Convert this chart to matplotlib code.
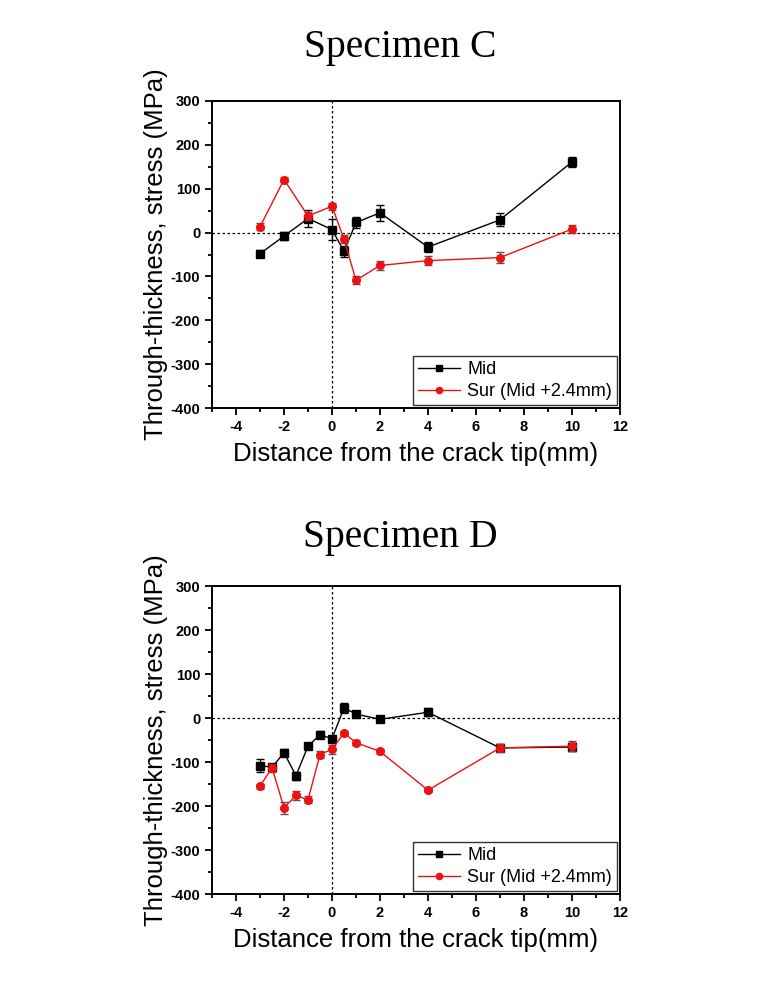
import matplotlib
matplotlib.use("Agg")
import matplotlib.pyplot as plt
from matplotlib.ticker import MultipleLocator
from matplotlib.lines import Line2D

plt.rcParams["axes.unicode_minus"] = False

# ---- data ----
titles = ["Specimen C", "Specimen D"]
series_labels = ["Mid", "Sur (Mid +2.4mm)"]

c_x = [-3, -2, -1, 0, 0.5, 1, 2, 4, 7, 10]
c_mid = [-48, -8, 32, 7, -43, 23, 45, -33, 29, 161]
c_mid_err = [8, 10, 20, 24, 13, 13, 18, 11, 15, 12]
c_sur = [13, 121, 38, 60, -15, -109, -75, -64, -57, 8]
c_sur_err = [8, 5, 10, 8, 9, 9, 10, 11, 12, 10]

d_x = [-3, -2.5, -2, -1.5, -1, -0.5, 0, 0.5, 1, 2, 4, 7, 10]
d_mid = [-108, -112, -79, -131, -64, -38, -47, 23, 9, -3, 13, -68, -66]
d_mid_err = [14, 5, 8, 9, 6, 8, 6, 11, 5, 5, 9, 8, 10]
d_sur = [-155, -113, -204, -176, -186, -83, -71, -34, -56, -76, -164, -68, -64]
d_sur_err = [6, 9, 14, 11, 8, 8, 10, 5, 5, 5, 5, 10, 12]

datasets = [
    (c_x, c_mid, c_mid_err, c_sur, c_sur_err),
    (d_x, d_mid, d_mid_err, d_sur, d_sur_err),
]

xlabel = "Distance from the crack tip(mm)"
ylabel = "Through-thickness, stress (MPa)"

W, H = 769, 981
fig = plt.figure(figsize=(W / 100, H / 100), dpi=100)

# axes boxes in pixels: left, top, right, bottom
boxes = [(212, 101, 620, 408), (212, 586, 620, 894)]
title_y = [48, 538]
MID_C = "black"
SUR_C = "#ee1111"

for (x, mid, mid_e, sur, sur_e), box, title, ty in zip(datasets, boxes, titles, title_y):
    l, t, r, b = box
    ax = fig.add_axes([l / W, 1 - b / H, (r - l) / W, (b - t) / H])
    ax.axhline(0, color="black", ls=(0, (2, 2)), lw=0.9, zorder=1)
    ax.axvline(0, color="black", ls=(0, (2, 2)), lw=0.9, zorder=1)
    ax.errorbar(x, mid, yerr=mid_e, color=MID_C, marker="s", ms=5.5,
                lw=1.0, elinewidth=1.0, capsize=3, ecolor="black", zorder=3)
    ax.errorbar(x, sur, yerr=sur_e, color=SUR_C, marker="o", ms=5.5,
                lw=1.0, elinewidth=1.0, capsize=3, ecolor="#555555", zorder=4)
    ax.set_xlim(-5, 12)
    ax.set_ylim(-400, 300)
    ax.set_xticks([-4, -2, 0, 2, 4, 6, 8, 10, 12])
    ax.xaxis.set_minor_locator(MultipleLocator(1))
    ax.yaxis.set_major_locator(MultipleLocator(100))
    ax.yaxis.set_minor_locator(MultipleLocator(50))
    ax.tick_params(which="both", direction="out", top=False, right=False,
                   width=1.3, labelsize=10.5)
    ax.tick_params(which="major", length=5)
    ax.tick_params(which="minor", length=3)
    for lab in ax.get_xticklabels() + ax.get_yticklabels():
        lab.set_fontweight("bold")
        lab.set_family("Liberation Sans")
    for s in ax.spines.values():
        s.set_linewidth(1.4)
    ax.set_xlabel(xlabel, fontsize=18.5, family="Liberation Sans", labelpad=6)
    ax.set_ylabel(ylabel, fontsize=18.5, family="Liberation Sans", labelpad=2)
    handles = [
        Line2D([], [], color=MID_C, marker="s", ms=4.5, lw=1.0),
        Line2D([], [], color=SUR_C, marker="o", ms=4.5, lw=1.0),
    ]
    leg = ax.legend(handles, series_labels, loc="lower right", frameon=True,
                    fancybox=False, edgecolor="black", borderaxespad=0.15,
                    handlelength=2.3, handletextpad=0.4, borderpad=0.3,
                    labelspacing=0.25,
                    prop={"family": "Liberation Sans", "size": 13})
    leg.get_frame().set_linewidth(1.0)
    fig.text(400 / W, 1 - ty / H, title, ha="center", va="center",
             fontsize=28.5, family="Liberation Serif")

fig.savefig("out.png", dpi=100)
